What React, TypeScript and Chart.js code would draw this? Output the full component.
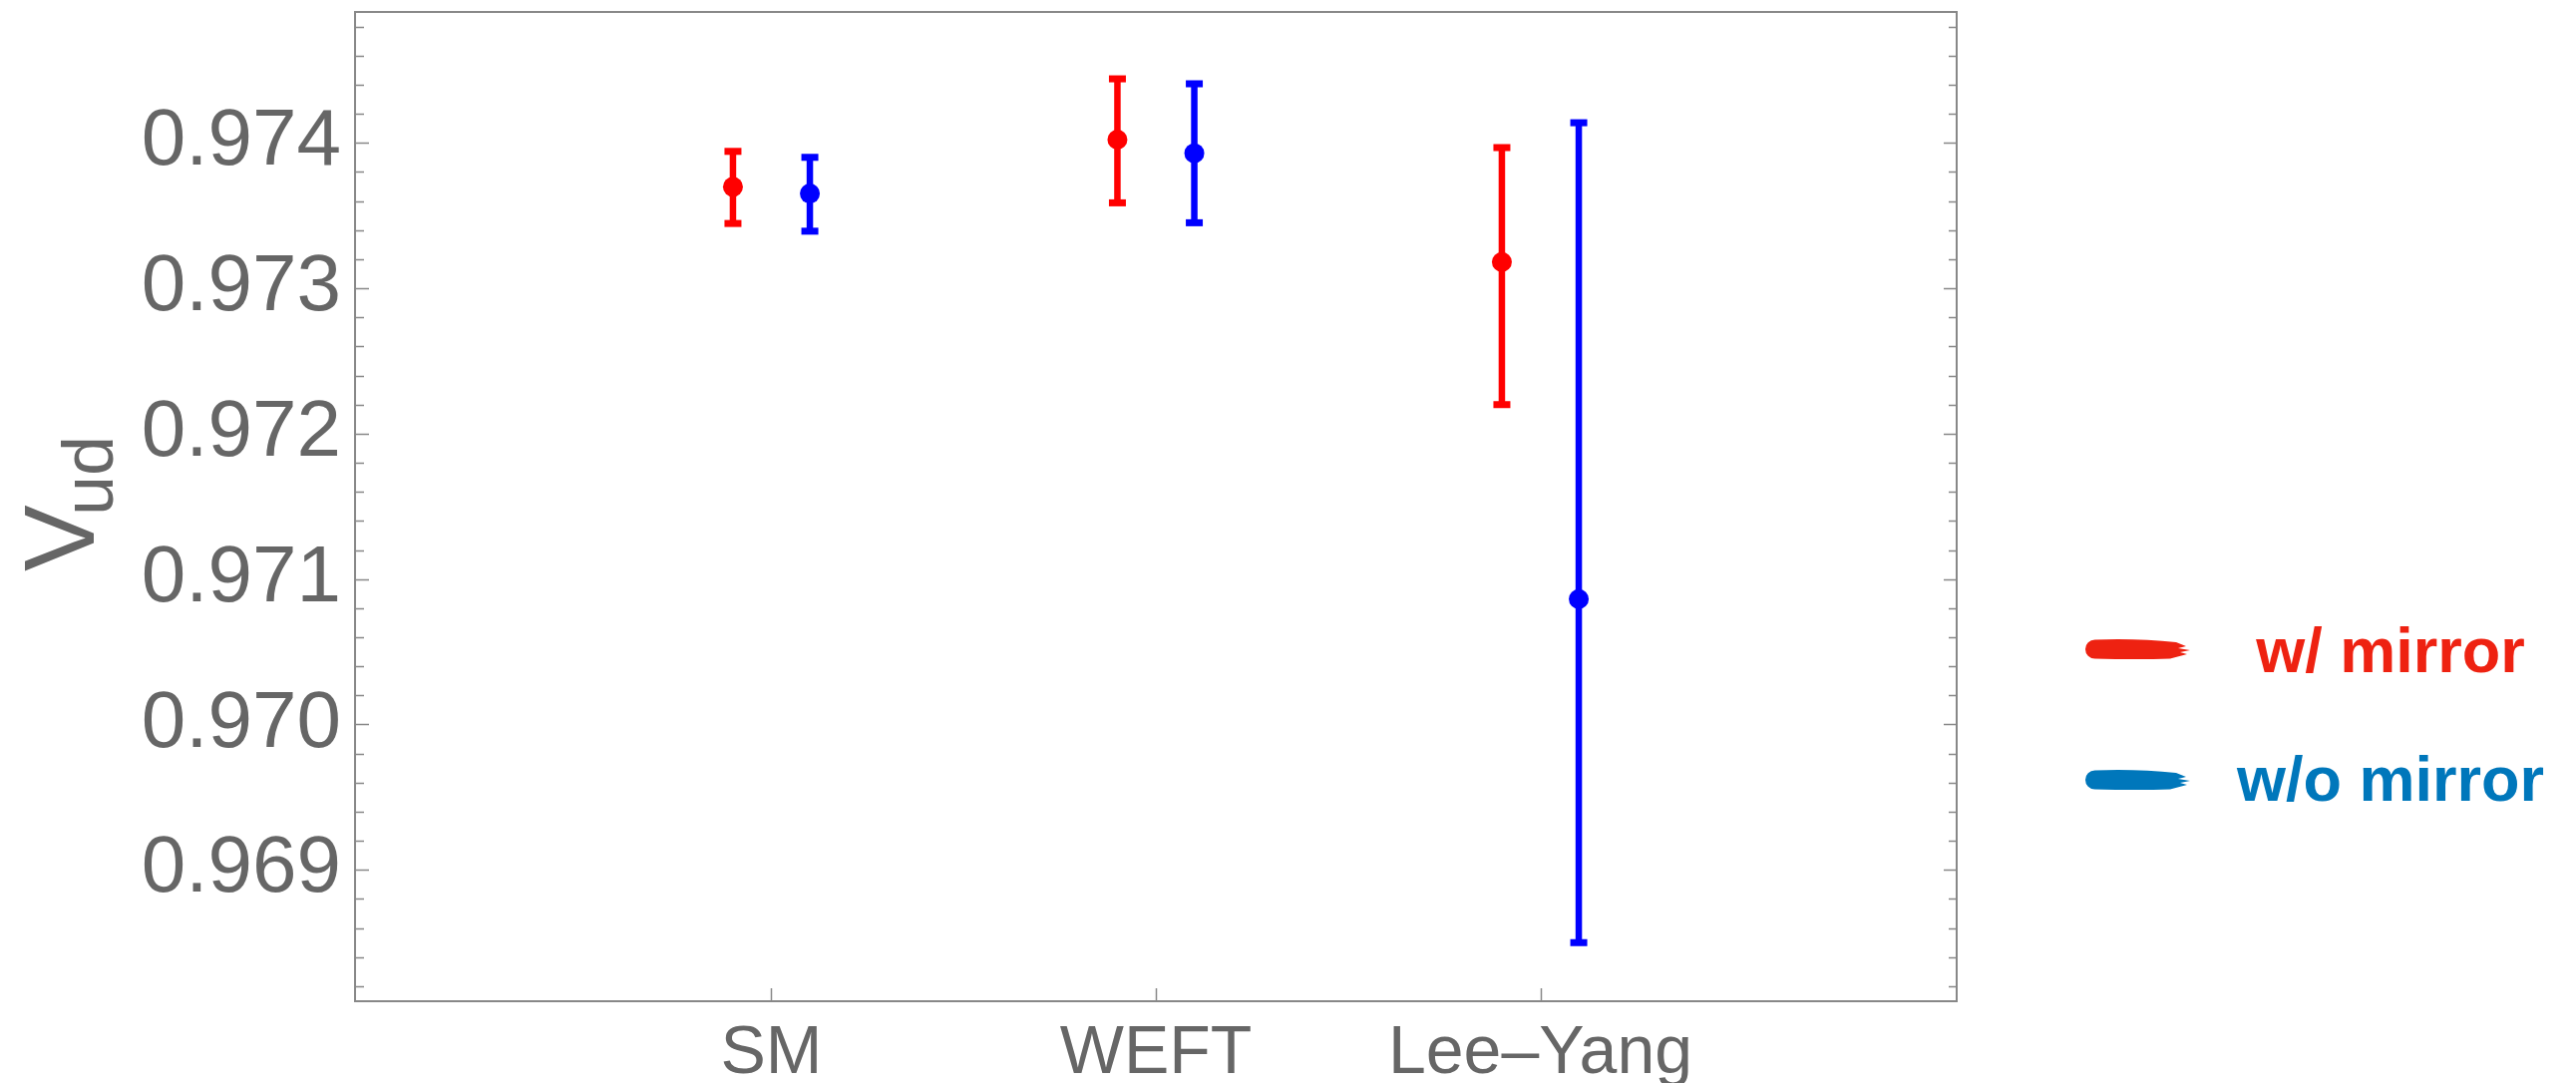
import React, { useEffect, useRef } from 'react';
import { Chart, registerables } from 'chart.js';

Chart.register(...registerables);

// ---- data ----
const categories = ['SM', 'WEFT', 'Lee–Yang'];
const categoryPositions = [1, 2, 3];
const seriesOffset = 0.1;

const wMirrorCentral = [0.973698, 0.974023, 0.973181];
const wMirrorLower = [0.973446, 0.973588, 0.9722];
const wMirrorUpper = [0.973942, 0.974441, 0.973968];

const woMirrorCentral = [0.973652, 0.973929, 0.970862];
const woMirrorLower = [0.973393, 0.973451, 0.968499];
const woMirrorUpper = [0.973901, 0.974407, 0.974139];

const yMajorTicks = [0.969, 0.97, 0.971, 0.972, 0.973, 0.974];
const yMin = 0.968096;
const yMax = 0.974901;
const xMin = 1 - 1.083;
const xMax = 3 + 1.083;

const legendLabels = ['w/ mirror', 'w/o mirror'];
const legendColors = ['#EE2211', '#0077BB'];

const FONT = '"Liberation Sans", Arial, Helvetica, sans-serif';
const TEXT_GRAY = '#666666';
const FRAME_GRAY = '#888888';

const yMinorTicks: number[] = [];
for (let k = 9682; k <= 9748; k += 2) yMinorTicks.push(k / 10000);

function makePoints(central: number[], lower: number[], upper: number[], off: number) {
  return categoryPositions.map((c, i) => ({ x: c + off, y: central[i], yMin: lower[i], yMax: upper[i] }));
}

const framePlugin = {
  id: 'frameTicks',
  beforeDatasetsDraw(chart: any) {
    const { ctx, chartArea, scales } = chart;
    const { left, right, top, bottom } = chartArea;
    const ys = scales.y;
    const xs = scales.x;
    ctx.save();
    ctx.strokeStyle = FRAME_GRAY;
    ctx.lineWidth = 1.5;
    yMinorTicks.forEach((v) => {
      const isMajor = yMajorTicks.some((m) => Math.abs(m - v) < 1e-7);
      const py = Math.round(ys.getPixelForValue(v)) + 0.5;
      ctx.beginPath();
      ctx.moveTo(left, py);
      ctx.lineTo(left + (isMajor ? 14 : 9), py);
      ctx.moveTo(right, py);
      ctx.lineTo(right - (isMajor ? 13 : 8), py);
      ctx.stroke();
    });
    categoryPositions.forEach((c) => {
      const px = Math.round(xs.getPixelForValue(c)) + 0.5;
      ctx.beginPath();
      ctx.moveTo(px, bottom);
      ctx.lineTo(px, bottom - 13);
      ctx.stroke();
    });
    ctx.lineWidth = 2;
    ctx.strokeRect(left, top, right - left, bottom - top);
    ctx.restore();
  },
};

const errorBarPlugin = {
  id: 'errorBars',
  beforeDatasetsDraw(chart: any) {
    const { ctx, scales } = chart;
    const xs = scales.x;
    const ys = scales.y;
    chart.data.datasets.forEach((ds: any) => {
      ctx.save();
      ctx.strokeStyle = ds.borderColor;
      ctx.fillStyle = ds.borderColor;
      ctx.lineWidth = 6.5;
      ds.data.forEach((p: any) => {
        const px = xs.getPixelForValue(p.x);
        const t = ys.getPixelForValue(p.yMax);
        const b = ys.getPixelForValue(p.yMin);
        ctx.beginPath();
        ctx.moveTo(px, t);
        ctx.lineTo(px, b);
        ctx.stroke();
        ctx.fillRect(px - 8.5, t - 3.5, 17, 7);
        ctx.fillRect(px - 8.5, b - 3.5, 17, 7);
      });
      ctx.restore();
    });
  },
};

function brush(ctx: CanvasRenderingContext2D, x0: number, x1: number, yc: number, h: number, color: string) {
  const r = h / 2;
  ctx.fillStyle = color;
  ctx.beginPath();
  ctx.moveTo(x0 + r, yc - r);
  ctx.quadraticCurveTo((x0 + x1) / 2, yc - r - 1.5, x1 - 14, yc - r + 2.5);
  ctx.lineTo(x1 - 4, yc - 3);
  ctx.lineTo(x1 - 12, yc - 1);
  ctx.lineTo(x1, yc + 1);
  ctx.lineTo(x1 - 10, yc + 3);
  ctx.lineTo(x1 - 3, yc + 5);
  ctx.lineTo(x1 - 20, yc + r);
  ctx.quadraticCurveTo((x0 + x1) / 2, yc + r + 1, x0 + r, yc + r);
  ctx.arc(x0 + r, yc, r, Math.PI / 2, (3 * Math.PI) / 2);
  ctx.closePath();
  ctx.fill();
}

const legendAndTitlePlugin = {
  id: 'legendAndTitle',
  afterDraw(chart: any) {
    const { ctx, chartArea } = chart;
    ctx.save();
    // y-axis title V_ud
    const cy = (chartArea.top + chartArea.bottom) / 2;
    ctx.translate(94, cy + 65);
    ctx.rotate(-Math.PI / 2);
    ctx.fillStyle = TEXT_GRAY;
    ctx.textBaseline = 'alphabetic';
    ctx.textAlign = 'left';
    ctx.font = `100px ${FONT}`;
    ctx.fillText('V', 0, 0);
    ctx.font = `72px ${FONT}`;
    ctx.fillText('ud', 56, 19);
    ctx.restore();

    // legend
    ctx.save();
    const rows = [651, 782];
    const textY = [674, 803];
    legendLabels.forEach((lab, i) => {
      brush(ctx, 2091, 2196, rows[i], 19, legendColors[i]);
      ctx.fillStyle = legendColors[i];
      ctx.font = `bold 63px ${FONT}`;
      ctx.textAlign = 'center';
      ctx.textBaseline = 'alphabetic';
      ctx.fillText(lab, 2397, textY[i]);
    });
    ctx.restore();
  },
};

export default function App() {
  const ref = useRef<HTMLCanvasElement | null>(null);

  useEffect(() => {
    if (!ref.current) return;
    const chart = new Chart(ref.current, {
      type: 'scatter',
      data: {
        datasets: [
          {
            label: legendLabels[0],
            data: makePoints(wMirrorCentral, wMirrorLower, wMirrorUpper, -seriesOffset),
            borderColor: '#FF0000',
            backgroundColor: '#FF0000',
            pointRadius: 10,
            pointBorderWidth: 0,
          },
          {
            label: legendLabels[1],
            data: makePoints(woMirrorCentral, woMirrorLower, woMirrorUpper, seriesOffset),
            borderColor: '#0000FF',
            backgroundColor: '#0000FF',
            pointRadius: 10,
            pointBorderWidth: 0,
          },
        ],
      },
      options: {
        animation: false,
        responsive: false,
        maintainAspectRatio: false,
        layout: { padding: { top: 12, right: 621, left: 0, bottom: 0 } },
        plugins: { legend: { display: false }, tooltip: { enabled: false } },
        scales: {
          x: {
            type: 'linear',
            min: xMin,
            max: xMax,
            grid: { display: false, drawTicks: false },
            border: { display: false },
            afterBuildTicks: (s: any) => {
              s.ticks = categoryPositions.map((v) => ({ value: v }));
            },
            afterFit: (s: any) => {
              s.height = 82;
              s.paddingLeft = 0;
              s.paddingRight = 0;
            },
            ticks: {
              autoSkip: false,
              maxRotation: 0,
              minRotation: 0,
              padding: 12,
              color: TEXT_GRAY,
              font: { family: FONT, size: 68 },
              callback: (v: any) => {
                const idx = categoryPositions.indexOf(Number(v));
                return idx >= 0 ? categories[idx] : '';
              },
            },
          },
          y: {
            type: 'linear',
            min: yMin,
            max: yMax,
            grid: { display: false, drawTicks: false },
            border: { display: false },
            afterBuildTicks: (s: any) => {
              s.ticks = yMajorTicks.map((v) => ({ value: v }));
            },
            afterFit: (s: any) => {
              s.width = 356;
              s.paddingTop = 0;
              s.paddingBottom = 0;
            },
            ticks: {
              padding: 14,
              color: TEXT_GRAY,
              font: { family: FONT, size: 80 },
              callback: (v: any) => Number(v).toFixed(3),
            },
          },
        },
      } as any,
      plugins: [framePlugin, errorBarPlugin, legendAndTitlePlugin],
    });
    return () => chart.destroy();
  }, []);

  return (
    <div style={{ position: 'absolute', left: 0, top: 0, width: 2583, height: 1086, background: '#fff' }}>
      <canvas ref={ref} width={2583} height={1086} style={{ display: 'block', width: 2583, height: 1086 }} />
    </div>
  );
}
